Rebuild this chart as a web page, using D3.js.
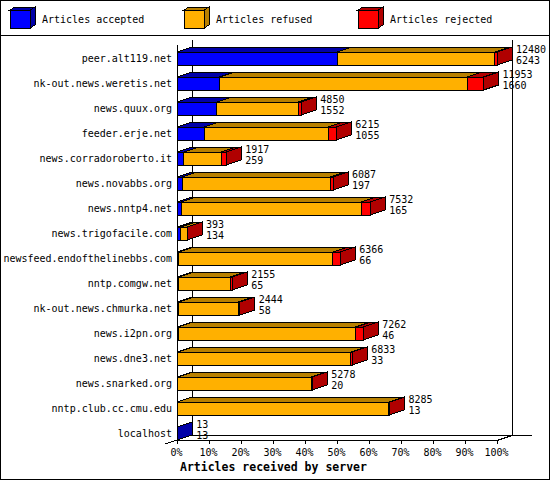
<!DOCTYPE html>
<html>
<head>
<meta charset="utf-8">
<script src="https://cdn.jsdelivr.net/npm/d3@7"></script>
<style>
  body { margin: 0; background: #fff; }
  text { font-family: "DejaVu Sans Mono", monospace; font-size: 10px; fill: #000; }
</style>
</head>
<body>
<script>
// Servers, top number = articles offered, bottom number = articles accepted
const hosts = ["peer.alt119.net", "nk-out.news.weretis.net", "news.quux.org", "feeder.erje.net",
  "news.corradoroberto.it", "news.novabbs.org", "news.nntp4.net", "news.trigofacile.com",
  "newsfeed.endofthelinebbs.com", "nntp.comgw.net", "nk-out.news.chmurka.net", "news.i2pn.org",
  "news.dne3.net", "news.snarked.org", "nntp.club.cc.cmu.edu", "localhost"];
const offered = [12480, 11953, 4850, 6215, 1917, 6087, 7532, 393, 6366, 2155, 2444, 7262, 6833, 5278, 8285, 13];
const accepted = [6243, 1660, 1552, 1055, 259, 197, 165, 134, 66, 65, 58, 46, 33, 20, 13, 13];
// rejected read off the red part of each bar (estimates)
const rejected = [80, 640, 130, 315, 195, 100, 350, 3, 290, 80, 50, 300, 60, 30, 20, 0];
const refused = offered.map((o, i) => o - accepted[i] - rejected[i]);

const legendLabels = ["Articles accepted", "Articles refused", "Articles rejected"];
const xTicks = [0, 10, 20, 30, 40, 50, 60, 70, 80, 90, 100];
const axisTitle = "Articles received by server";

const colors = ["#0000ff", "#ffb000", "#ff0000"];
const darks = ["#0000a8", "#b88000", "#b00000"];

const width = 550, height = 480;
const dx = 15, dy = -5;       // 3D depth
const barH = 13;

const svg = d3.select("body").append("svg")
    .attr("width", width)
    .attr("height", height)
    .attr("shape-rendering", "crispEdges");

// Frame and legend separator
svg.append("rect")
    .attr("x", 0.5).attr("y", 0.5)
    .attr("width", width - 1).attr("height", height - 1)
    .attr("fill", "#fff").attr("stroke", "#000");
svg.append("line")
    .attr("x1", 0).attr("x2", width)
    .attr("y1", 35.5).attr("y2", 35.5)
    .attr("stroke", "#000");

// Legend
const legend = svg.selectAll(".legend")
    .data(legendLabels)
    .enter().append("g")
    .attr("class", "legend")
    .attr("transform", (d, i) => `translate(${10 + i * 174},0)`);

legend.append("polygon")
    .attr("points", "0,10 20,10 25,7 5,7")
    .attr("fill", (d, i) => darks[i]).attr("stroke", "#000");
legend.append("polygon")
    .attr("points", "20,10 25,7 25,25 20,28")
    .attr("fill", (d, i) => darks[i]).attr("stroke", "#000");
legend.append("rect")
    .attr("x", 0).attr("y", 10).attr("width", 20).attr("height", 18)
    .attr("fill", (d, i) => colors[i]).attr("stroke", "#000");
legend.append("text")
    .attr("x", 32).attr("y", 20)
    .attr("dominant-baseline", "middle")
    .text(d => d);

// Scales
const maxOffered = d3.max(offered);
const x = d3.scaleLinear().domain([0, 100]).range([177, 497]);
const y = d3.scaleBand().domain(hosts).range([40, 440]);
const pct = v => v / maxOffered * 100;

const x0 = x(0), yBottom = 440;

// Walls and floor
const walls = svg.append("g").attr("stroke", "#000").attr("fill", "none");
walls.append("line").attr("x1", x0 + 0.5).attr("x2", x0 + 0.5).attr("y1", 45).attr("y2", yBottom);
walls.append("line").attr("x1", x0 + dx + 0.5).attr("x2", x0 + dx + 0.5).attr("y1", 40).attr("y2", yBottom + dy);
walls.append("line").attr("x1", x(100) + dx + 0.5).attr("x2", x(100) + dx + 0.5).attr("y1", 40).attr("y2", yBottom + dy);
walls.append("line").attr("x1", x0 + dx).attr("x2", 532).attr("y1", yBottom + dy + 0.5).attr("y2", yBottom + dy + 0.5);
walls.append("line").attr("x1", x0).attr("x2", x(100)).attr("y1", yBottom + 0.5).attr("y2", yBottom + 0.5);
walls.append("line").attr("x1", x(100)).attr("x2", x(100) + dx).attr("y1", yBottom + 0.5).attr("y2", yBottom + dy + 0.5);
walls.append("line").attr("x1", x0).attr("x2", x0 - 12).attr("y1", yBottom).attr("y2", yBottom + 4);

// X axis
const xAxis = d3.axisBottom(x)
    .tickValues(xTicks)
    .tickSize(4)
    .tickPadding(5)
    .tickFormat(d => d + "%");
const gx = svg.append("g")
    .attr("transform", `translate(0,${yBottom})`)
    .call(xAxis);
gx.select(".domain").remove();
gx.selectAll("text")
    .attr("font-family", "DejaVu Sans Mono")
    .attr("font-size", 10)
    .attr("dx", -1);

svg.append("text")
    .attr("x", 180).attr("y", 467)
    .attr("dominant-baseline", "middle")
    .style("font-weight", "bold")
    .style("font-size", "11.5px")
    .text(axisTitle);

// Host labels
svg.selectAll(".host")
    .data(hosts)
    .enter().append("text")
    .attr("class", "host")
    .attr("x", 172)
    .attr("y", d => y(d) + y.bandwidth() - barH / 2)
    .attr("text-anchor", "end")
    .attr("dominant-baseline", "middle")
    .text(d => d);

// Bars
hosts.forEach((h, i) => {
    const vals = [accepted[i], refused[i], rejected[i]];
    const by = y(h) + y.bandwidth() - barH;
    let cum = 0;
    const segs = [];
    vals.forEach((v, k) => {
        if (v <= 0) return;
        segs.push({ a: x(pct(cum)), b: x(pct(cum + v)), k: k });
        cum += v;
    });
    const g = svg.append("g").attr("stroke", "#000");
    segs.forEach(s => {
        g.append("polygon")
            .attr("points", [[s.a, by], [s.b, by], [s.b + dx, by + dy], [s.a + dx, by + dy]].join(" "))
            .attr("fill", darks[s.k]);
    });
    const last = segs[segs.length - 1];
    g.append("polygon")
        .attr("points", [[last.b, by], [last.b + dx, by + dy], [last.b + dx, by + barH + dy], [last.b, by + barH]].join(" "))
        .attr("fill", darks[last.k]);
    segs.forEach(s => {
        g.append("rect")
            .attr("x", s.a).attr("y", by)
            .attr("width", Math.max(0, s.b - s.a)).attr("height", barH)
            .attr("fill", colors[s.k]);
    });

    const tx = last.b + dx + 4;
    svg.append("text").attr("x", tx).attr("y", by - 2)
        .attr("dominant-baseline", "middle").text(offered[i]);
    svg.append("text").attr("x", tx).attr("y", by + 9)
        .attr("dominant-baseline", "middle").text(accepted[i]);
});
</script>
</body>
</html>
